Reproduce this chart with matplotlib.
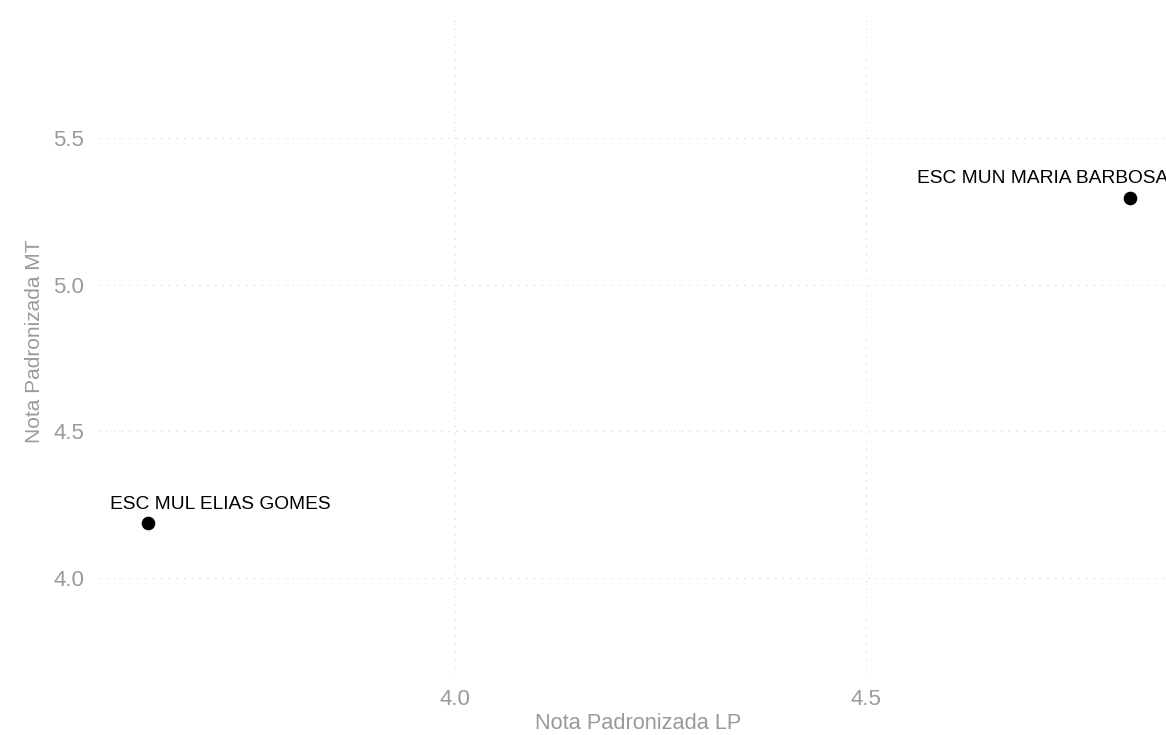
import numpy as np
import matplotlib
matplotlib.use("Agg")
import matplotlib.pyplot as plt

plt.rcParams['font.family'] = ['Liberation Sans', 'DejaVu Sans']

# data
escolas = ["ESC MUL ELIAS GOMES", "ESC MUN MARIA BARBOSA"]
nota_lp = [3.627, 4.821]
nota_mt = [4.188, 5.297]
# label offsets (pixels) relative to each point
label_dx = [-38, -213]
label_dy = [18, 19]

x_ticks = [4.0, 4.5]
y_ticks = [4.0, 4.5, 5.0, 5.5]

fig = plt.figure(figsize=(11.66, 7.35), dpi=100)
ax = fig.add_axes([98/1166, 1 - 675/735, 1081/1166, 660/735])

grid_col = '#d4d4d4'
for xv in x_ticks:
    ax.axvline(xv, color=grid_col, lw=0.8, ls=(0, (1, 6)), zorder=0)
for yv in y_ticks:
    ax.axhline(yv, color=grid_col, lw=0.8, ls=(0, (1, 6)), zorder=0)

ax.plot(nota_lp, nota_mt, 'o', color='black', markersize=8.8, zorder=3)

for nome, x, y, dx, dy in zip(escolas, nota_lp, nota_mt, label_dx, label_dy):
    ax.annotate(nome, (x, y), xytext=(dx, dy), textcoords='offset pixels',
                ha='left', va='center', fontsize=13.8, color='black')

ax.set_xlim(3.566, 4.881)
ax.set_ylim(3.669, 5.92)
ax.set_xticks(x_ticks)
ax.set_yticks(y_ticks)
ax.set_xticklabels(['%.1f' % v for v in x_ticks])
ax.set_yticklabels(['%.1f' % v for v in y_ticks])
ax.tick_params(length=0, labelsize=16, labelcolor='#9a9a9a')
ax.tick_params(axis='x', pad=10)
ax.tick_params(axis='y', pad=10)
for s in ax.spines.values():
    s.set_visible(False)

ax.set_xlabel('Nota Padronizada LP', fontsize=15.7, color='#9a9a9a', labelpad=2)
ax.set_ylabel('Nota Padronizada MT', fontsize=15, color='#9a9a9a')
ax.yaxis.set_label_coords(-0.050, 0.505)

fig.savefig('out.png', dpi=100)
